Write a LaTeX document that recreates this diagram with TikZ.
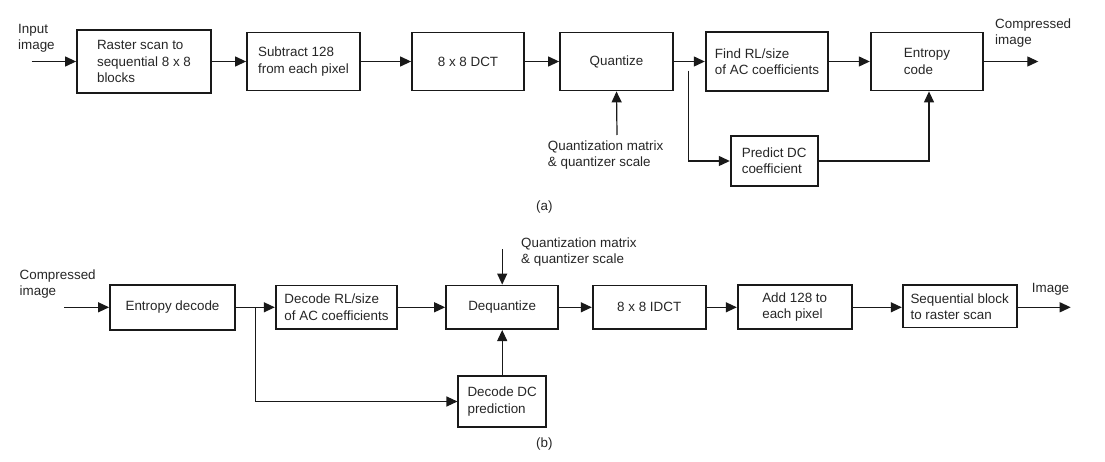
\documentclass[tikz,border=0pt]{standalone}
\usepackage{fontspec}
\setmainfont{Liberation Sans}
\usetikzlibrary{arrows.meta}
\begin{document}
\begin{tikzpicture}[x=1pt,y=-1pt,
  txt/.style={font=\fontsize{13.4}{16.2}\selectfont, text=black!85, inner sep=0pt, align=left},
  blk/.style={txt, draw=black!90, line width=1.8pt, minimum width=#1},
  arr/.style={draw=black!90, line width=1.2pt, -{Triangle[length=11pt,width=10pt]}},
  ln/.style={draw=black!90, line width=1.2pt}]
\useasboundingbox (0,0) rectangle (1105,462);
% (a)
\node[blk=134pt, minimum height=63pt] (ras) at (144,61.5) {Raster scan to\\sequential 8 x 8\\blocks};
\node[blk=113pt, minimum height=58pt] (sub) at (303.5,61.5) {Subtract 128\\from each pixel};
\node[blk=112pt, minimum height=58pt] (dct) at (468,61.5) {8 x 8 DCT};
\node[blk=113pt, minimum height=58pt] (qnt) at (616.5,61.5) {Quantize};
\node[blk=122.6pt, minimum height=59pt] (frl) at (767,61.5) {Find RL/size\\of AC coefficients};
\node[blk=112.6pt, minimum height=58pt] (ent) at (927,61.5) {Entropy\\code};
\node[blk=87pt, minimum height=50pt] (pdc) at (774.2,161) {Predict DC\\coefficient};
\node[txt, anchor=west] (inA) at (18,38.4) {Input\\image};
\node[txt, anchor=west] (outA) at (995,32.7) {Compressed\\image};
\node[txt, anchor=west] (qmA) at (547.7,155.3) {Quantization matrix\\\& quantizer scale};
\node[txt] (capA) at (544.3,207.3) {(a)};
\coordinate (inAc) at (31.7,61.5);
\coordinate (outAc) at (1038.3,61.5);
\coordinate (qAc) at (617,135);
\coordinate (brA) at (688.3,70.7);
\draw[arr] (inAc) -- (ras);
\draw[arr] (ras) -- (sub);
\draw[arr] (sub) -- (dct);
\draw[arr] (dct) -- (qnt);
\draw[arr] (qnt) -- (frl);
\draw[arr] (frl) -- (ent);
\draw[arr] (ent) -- (outAc);
\draw[arr] (qAc) -- (qnt.south);
\draw[arr] (brA) |- (pdc.west);
\draw[arr] (pdc.east) -| ([xshift=2pt]ent.south);
% (b)
\node[blk=125pt, minimum height=45pt] (ed) at (172.5,307.3) {Entropy decode};
\node[blk=121.6pt, minimum height=43.7pt] (drl) at (336.5,307.3) {Decode RL/size\\of AC coefficients};
\node[blk=112.3pt, minimum height=43.7pt] (deq) at (502.2,307.3) {Dequantize};
\node[blk=113pt, minimum height=43.7pt] (idct) at (649.2,307.3) {8 x 8 IDCT};
\node[blk=114pt, minimum height=44pt] (add) at (794.7,307.3) {Add 128 to\\each pixel};
\node[blk=114pt, minimum height=42.3pt] (seq) at (959.7,306.4) {Sequential block\\to raster scan};
\node[blk=87.7pt, minimum height=51pt] (ddc) at (502.2,401.5) {Decode DC\\prediction};
\node[txt, anchor=west] (inB) at (19.5,284.2) {Compressed\\image};
\node[txt, anchor=west] (outB) at (1031.7,289) {Image};
\node[txt, anchor=west] (qmB) at (521,252) {Quantization matrix\\\& quantizer scale};
\node[txt] (capB) at (544.3,444.3) {(b)};
\coordinate (inBc) at (64,307.3);
\coordinate (outBc) at (1070.7,307.3);
\coordinate (qBc) at (502.2,249.3);
\coordinate (brB) at (255.3,307.3);
\draw[arr] (inBc) -- (ed);
\draw[arr] (ed) -- (drl);
\draw[arr] (drl) -- (deq);
\draw[arr] (deq) -- (idct);
\draw[arr] (idct) -- (add);
\draw[arr] (add) -- (seq.west |- add.east);
\draw[arr] (seq.east |- outBc) -- (outBc);
\draw[arr] (qBc) -- (deq.north);
\draw[arr] (ddc) -- (deq);
\draw[arr] (brB) |- (ddc.west);
\end{tikzpicture}
\end{document}
